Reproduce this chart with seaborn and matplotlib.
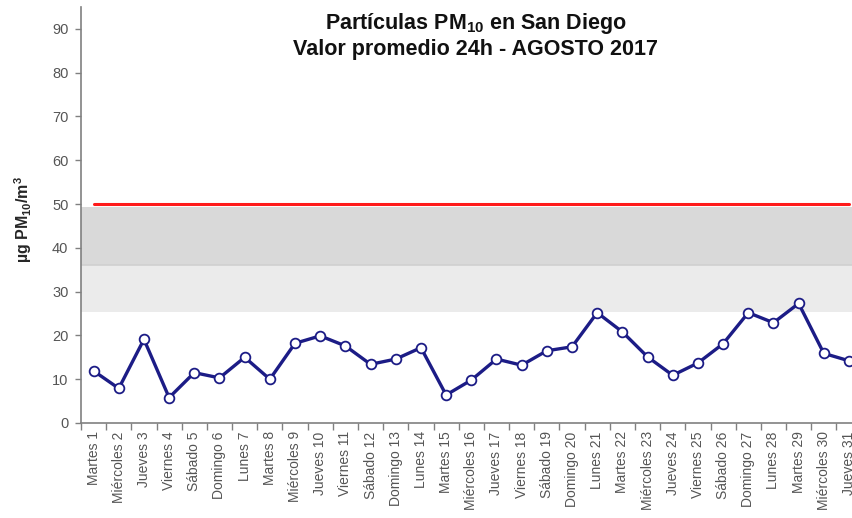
import numpy as np
import pandas as pd
import seaborn as sns
import matplotlib
matplotlib.use('Agg')
import matplotlib.pyplot as plt
from matplotlib.ticker import FixedLocator, NullFormatter

# dias de agosto 2017
dias = ["Martes 1", "Miércoles 2", "Jueves 3", "Viernes 4", "Sábado 5", "Domingo 6",
        "Lunes 7", "Martes 8", "Miércoles 9", "Jueves 10", "Viernes 11", "Sábado 12",
        "Domingo 13", "Lunes 14", "Martes 15", "Miércoles 16", "Jueves 17", "Viernes 18",
        "Sábado 19", "Domingo 20", "Lunes 21", "Martes 22", "Miércoles 23", "Jueves 24",
        "Viernes 25", "Sábado 26", "Domingo 27", "Lunes 28", "Martes 29", "Miércoles 30",
        "Jueves 31"]
pm10 = [11.9, 7.9, 19.1, 5.8, 11.5, 10.3, 15.0, 10.0, 18.2, 19.9, 17.6, 13.4,
        14.6, 17.2, 6.4, 9.8, 14.6, 13.2, 16.5, 17.4, 25.2, 20.8, 15.1, 10.9,
        13.7, 18.1, 25.2, 22.9, 27.3, 15.9, 14.2]
limite = 50
banda_alta = (36, 49.3)
banda_media = (25.4, 36)
yticks = list(range(0, 100, 10))

sns.set_style("white")
plt.rcParams['font.family'] = ['Liberation Sans', 'DejaVu Sans']
plt.rcParams['mathtext.fontset'] = 'custom'
plt.rcParams['mathtext.rm'] = 'Liberation Sans'
plt.rcParams['mathtext.bf'] = 'Liberation Sans:bold'

df = pd.DataFrame({"dia": np.arange(len(dias)), "pm10": pm10, "limite": limite})

fig = plt.figure(figsize=(8.53, 5.18), dpi=100)
ax = fig.add_axes([81/853, 95/518, 780.6/853, 416/518])

ax.axhspan(*banda_alta, color="#d9d9d9", lw=0, zorder=0)
ax.axhspan(*banda_media, color="#ebebeb", lw=0, zorder=0)
ax.axhline(banda_media[1], color="#d0d0d0", lw=1.2, zorder=0.5)

sns.lineplot(data=df, x="dia", y="limite", color="#ff1a1a", lw=2.2, ax=ax, zorder=2)
sns.lineplot(data=df, x="dia", y="pm10", color="#1c1c86", lw=2.4, marker="o",
             markersize=7, markerfacecolor="white", markeredgecolor="#1c1c86",
             markeredgewidth=1.3, ax=ax, zorder=3)

ax.set_xlim(-0.5, len(dias) - 0.5)
ax.set_ylim(0, 95)
ax.set_yticks(yticks)
ax.set_yticklabels([str(t) for t in yticks])

# ticks entre categorias, etiquetas en el centro
ax.xaxis.set_major_locator(FixedLocator(np.arange(len(dias) + 1) - 0.5))
ax.xaxis.set_major_formatter(NullFormatter())
ax.xaxis.set_minor_locator(FixedLocator(np.arange(len(dias))))
ax.set_xticklabels(dias, minor=True, rotation=90, fontsize=10, color="#555555")
ax.tick_params(axis="x", which="major", direction="out", length=5, width=1, color="#808080", bottom=True)
ax.tick_params(axis="x", which="minor", length=0, pad=6)
ax.tick_params(axis="y", direction="out", length=4, width=1, color="#808080",
               labelsize=10.5, labelcolor="#555555", left=True, pad=5)

for s in ["top", "right"]:
    ax.spines[s].set_visible(False)
for s in ["left", "bottom"]:
    ax.spines[s].set_color("#808080")
    ax.spines[s].set_linewidth(1.2)

ax.set_xlabel("")
ax.set_ylabel(r"µg PM$\mathbf{_{10}}$/m$\mathbf{^{3}}$", fontsize=11.5, fontweight="bold")
ax.yaxis.set_label_coords(-0.06, 0.49)

fig.text(476/853, 1 - 24/518, r"Partículas PM$\mathbf{_{10}}$ en San Diego", ha="center", va="center",
         fontsize=15.5, fontweight="bold", color="#111111")
fig.text(476/853, 1 - 50/518, "Valor promedio 24h - AGOSTO 2017", ha="center", va="center",
         fontsize=15.5, fontweight="bold", color="#111111")

fig.savefig("out.png", dpi=100)
